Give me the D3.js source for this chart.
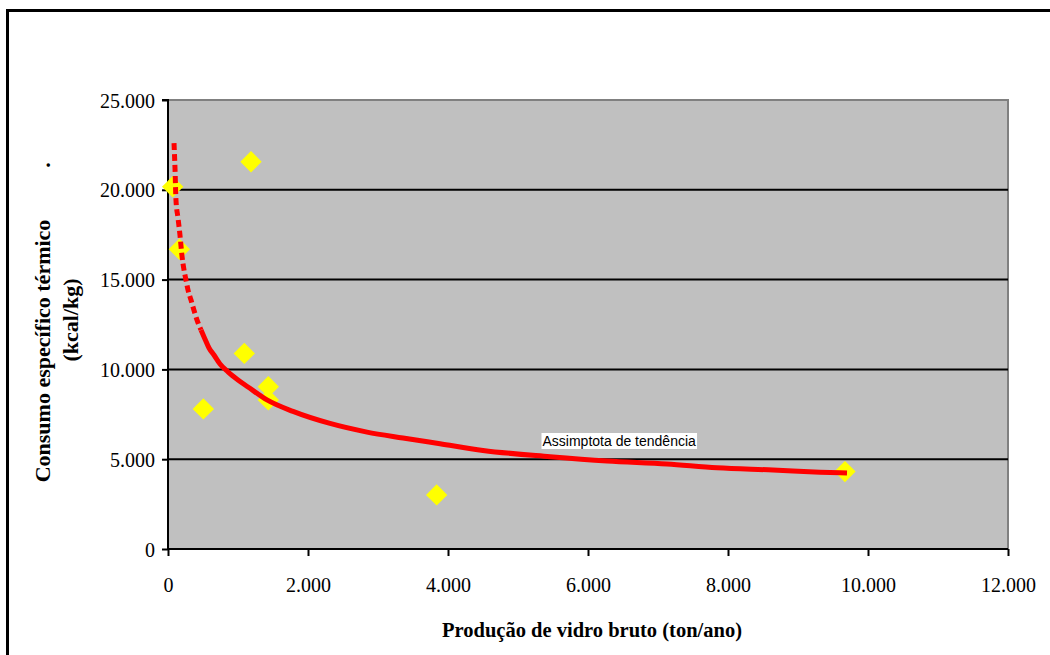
<!DOCTYPE html>
<html>
<head>
<meta charset="utf-8">
<script src="https://cdn.jsdelivr.net/npm/d3@7"></script>
<style>
  html, body { margin: 0; padding: 0; background: #fff; }
  svg { display: block; }
</style>
</head>
<body>
<svg id="chart" width="1050" height="655"></svg>
<script>
// ---- Data ----
const productionX = [67, 162, 1186, 505, 1090, 1433, 1433, 3838, 9671];
const consumptionY = [20170, 16690, 21560, 7800, 10890, 9040, 8300, 3010, 4310];

// trend curve ("Assimptota de tendência")
const trendX = [86, 100, 114, 143, 171, 200, 229, 257, 286, 329, 371, 414, 471, 529, 586, 657, 743, 857, 1000, 1143, 1414, 1786, 2314, 2843, 3357, 3886, 4500, 5457, 6271, 7129, 7843, 8643, 9314, 9700];
const trendY = [22600, 21200, 19430, 18430, 17480, 16310, 15530, 14980, 14420, 13860, 13290, 12760, 12200, 11680, 11190, 10800, 10300, 9860, 9410, 9020, 8300, 7660, 6990, 6510, 6180, 5860, 5490, 5140, 4900, 4730, 4520, 4400, 4280, 4230];

const xTicks = [0, 2000, 4000, 6000, 8000, 10000, 12000];
const yTicks = [0, 5000, 10000, 15000, 20000, 25000];
const xTitle = "Produção de vidro bruto (ton/ano)";
const yTitle1 = "Consumo específico térmico";
const yTitle2 = "(kcal/kg)";
const trendLabel = "Assimptota de tendência";

// ---- Layout ----
const svg = d3.select("#chart");
const plot = { left: 168, top: 100, right: 1008, bottom: 549 };
const fmt = d => d === 0 ? "0" : d3.format(",")(d).replace(/,/g, ".");
const SERIF = "'Liberation Serif', 'Times New Roman', serif";

const x = d3.scaleLinear().domain([0, 12000]).range([plot.left, plot.right]);
const y = d3.scaleLinear().domain([0, 25000]).range([plot.bottom, plot.top]);

svg.append("rect").attr("width", 1050).attr("height", 655).attr("fill", "#fff");
// outer chart border
svg.append("rect").attr("x", 7.5).attr("y", 10.5).attr("width", 1200).attr("height", 800)
  .attr("fill", "none").attr("stroke", "#000").attr("stroke-width", 3);

// plot area
svg.append("rect").attr("x", plot.left).attr("y", plot.top)
  .attr("width", plot.right - plot.left).attr("height", plot.bottom - plot.top)
  .attr("fill", "#c0c0c0").attr("stroke", "#808080").attr("stroke-width", 2);

// gridlines
svg.append("g").selectAll("line").data(yTicks.filter(d => d > 0 && d < 25000)).join("line")
  .attr("x1", plot.left).attr("x2", plot.right)
  .attr("y1", d => y(d)).attr("y2", d => y(d))
  .attr("stroke", "#000").attr("stroke-width", 2);

// axes
const yAxis = d3.axisLeft(y).tickValues(yTicks).tickFormat(fmt).tickSize(6).tickPadding(7);
const gy = svg.append("g").attr("transform", `translate(${plot.left},0)`).call(yAxis);
const xAxis = d3.axisBottom(x).tickValues(xTicks).tickFormat(fmt).tickSize(7).tickPadding(22);
const gx = svg.append("g").attr("transform", `translate(0,${plot.bottom})`).call(xAxis);
[gx, gy].forEach(g => {
  g.attr("font-family", SERIF).attr("font-size", 20);
  g.select(".domain").attr("stroke", "#000").attr("stroke-width", 2);
  g.selectAll(".tick line").attr("stroke", "#000").attr("stroke-width", 2);
  g.selectAll(".tick text").attr("fill", "#000")
    .style("font-family", SERIF).style("font-size", "20px");
});
gy.select(".domain").attr("d", `M-6,${plot.top}H0V${plot.bottom}`);
gx.select(".domain").attr("d", `M${plot.left},0H${plot.right}`);
gy.selectAll(".tick text").attr("dy", "0.35em");

// data points (yellow diamonds)
const pts = productionX.map((v, i) => [v, consumptionY[i]]);
const diamond = d3.symbol().type(d3.symbolDiamond2).size(290);
svg.append("g").selectAll("path").data(pts).join("path")
  .attr("transform", d => `translate(${x(d[0])},${y(d[1])})`)
  .attr("d", diamond).attr("fill", "#ffff00");

// trend curve
const tpts = trendX.map((v, i) => [v, trendY[i]]);
const line = d3.line().x(d => x(d[0])).y(d => y(d[1])).curve(d3.curveMonotoneX);
const splitIdx = trendY.findIndex(v => v < 12500);
svg.append("path").datum(tpts.slice(0, splitIdx + 1)).attr("d", line)
  .attr("fill", "none").attr("stroke", "#ff0000").attr("stroke-width", 5)
  .attr("stroke-dasharray", "7,4");
svg.append("path").datum(tpts.slice(splitIdx)).attr("d", line)
  .attr("fill", "none").attr("stroke", "#ff0000").attr("stroke-width", 5);

// trend label
const lblG = svg.append("g");
const lbl = lblG.append("text").attr("x", x(5350)).attr("y", 446)
  .style("font-family", "'Liberation Sans', Arial, sans-serif").style("font-size", "14px")
  .attr("fill", "#000").text(trendLabel);
const bb = lbl.node().getBBox();
lblG.insert("rect", "text").attr("x", bb.x - 1).attr("y", bb.y).attr("width", bb.width + 2)
  .attr("height", bb.height).attr("fill", "#fff");

// axis titles
svg.append("text").attr("x", (plot.left + plot.right) / 2 + 4).attr("y", 637)
  .attr("text-anchor", "middle").style("font-family", SERIF)
  .style("font-weight", "bold").style("font-size", "20.5px").attr("fill", "#000").text(xTitle);

[[yTitle1, 50, 351], [yTitle2, 78, 320], [".", 50, 165]].forEach(([t, tx, ty]) => {
  svg.append("text").attr("transform", `translate(${tx},${ty}) rotate(-90)`)
    .attr("text-anchor", "middle").style("font-family", SERIF)
    .style("font-weight", "bold").style("font-size", "22px").attr("fill", "#000").text(t);
});
</script>
</body>
</html>
